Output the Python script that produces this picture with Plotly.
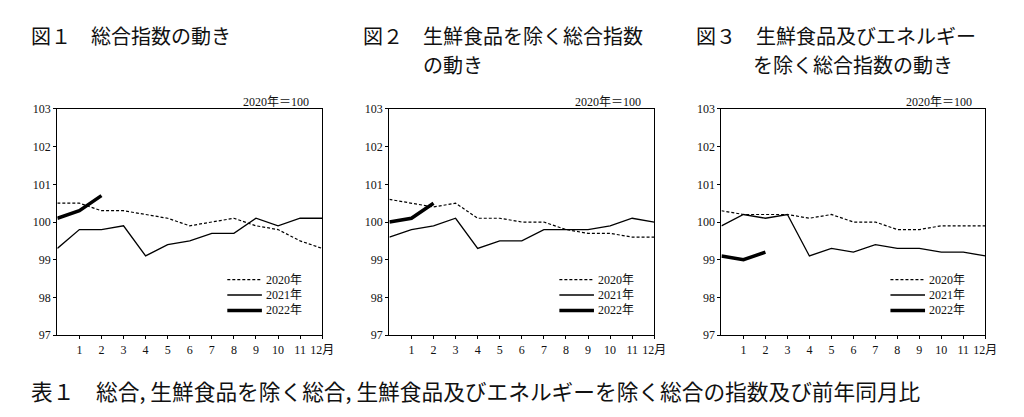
import plotly.graph_objects as go

# ---------------- data ----------------
month_pos = list(range(0, 13))          # 0 = previous December
tick_vals = list(range(1, 13))
tick_text = [str(i) for i in range(1, 12)] + ["12月"]
y_ticks = [97, 98, 99, 100, 101, 102, 103]
series_names = ["2020年", "2021年", "2022年"]

fig1_2020 = [100.5, 100.5, 100.3, 100.3, 100.2, 100.1, 99.9, 100.0, 100.1, 99.9, 99.8, 99.5, 99.3]
fig1_2021 = [99.3, 99.8, 99.8, 99.9, 99.1, 99.4, 99.5, 99.7, 99.7, 100.1, 99.9, 100.1, 100.1]
fig1_2022 = [100.1, 100.3, 100.7]

fig2_2020 = [100.6, 100.5, 100.4, 100.5, 100.1, 100.1, 100.0, 100.0, 99.8, 99.7, 99.7, 99.6, 99.6]
fig2_2021 = [99.6, 99.8, 99.9, 100.1, 99.3, 99.5, 99.5, 99.8, 99.8, 99.8, 99.9, 100.1, 100.0]
fig2_2022 = [100.0, 100.1, 100.5]

fig3_2020 = [100.3, 100.2, 100.2, 100.2, 100.1, 100.2, 100.0, 100.0, 99.8, 99.8, 99.9, 99.9, 99.9]
fig3_2021 = [99.9, 100.2, 100.1, 100.2, 99.1, 99.3, 99.2, 99.4, 99.3, 99.3, 99.2, 99.2, 99.1]
fig3_2022 = [99.1, 99.0, 99.2]

titles = [
    ["図１　総合指数の動き"],
    ["図２　生鮮食品を除く総合指数", "の動き"],
    ["図３　生鮮食品及びエネルギー", "を除く総合指数の動き"],
]
base_label = "2020年＝100"
table_title = "表１　総合, 生鮮食品を除く総合, 生鮮食品及びエネルギーを除く総合の指数及び前年同月比"

# ---------------- layout helpers ----------------
W, H = 1024, 417
def px(x):
    return x / W
def py(y):
    return 1 - y / H

FONT = "Liberation Serif, Noto Sans CJK JP, serif"
JFONT = "Noto Sans CJK JP, sans-serif"
INK = "#111111"

panels = [
    dict(data=[fig1_2020, fig1_2021, fig1_2022], left=58, right=326, title_x=29, title2_x=89),
    dict(data=[fig2_2020, fig2_2021, fig2_2022], left=394, right=662, title_x=365.5, title2_x=425.5),
    dict(data=[fig3_2020, fig3_2021, fig3_2022], left=730, right=997, title_x=702, title2_x=760),
]
top, bottom = 105.5, 339.5

styles = [
    dict(color="black", width=1.2, dash="3px,2px"),
    dict(color="black", width=1.3),
    dict(color="black", width=3.5),
]
legend_y = [282, 298, 314]

fig = go.Figure()
annotations = []
shapes = []
layout_axes = {}

for i, p in enumerate(panels):
    n = "" if i == 0 else str(i + 1)
    xa, ya = "x" + n, "y" + n
    for s, (vals, name) in enumerate(zip(p["data"], series_names)):
        fig.add_trace(go.Scatter(
            x=month_pos[:len(vals)], y=vals, mode="lines", name=name,
            line=styles[s], xaxis=xa, yaxis=ya, showlegend=False,
        ))
        # legend sample + label
        ly = legend_y[s]
        shapes.append(dict(
            type="line", xref="paper", yref="paper",
            x0=px(p["right"] - 96), x1=px(p["right"] - 61),
            y0=py(ly), y1=py(ly), line=styles[s],
        ))
        annotations.append(dict(
            x=px(p["right"] - 59), y=py(ly), xref="paper", yref="paper",
            xanchor="left", yanchor="middle", text=name, showarrow=False,
            font=dict(family=FONT, size=12, color=INK),
        ))
    layout_axes["xaxis" + n] = dict(
        domain=[px(p["left"]), px(p["right"])], anchor=ya, range=[0, 12],
        tickvals=tick_vals, ticktext=tick_text, ticks="outside", ticklen=3,
        tickcolor="black", showline=True, linecolor="black", linewidth=1.3,
        mirror=True, showgrid=False, zeroline=False,
        tickfont=dict(family=FONT, size=12, color=INK), fixedrange=True,
    )
    layout_axes["yaxis" + n] = dict(
        domain=[py(bottom), py(top)], anchor=xa, range=[97, 103],
        tickvals=y_ticks, ticks="outside", ticklen=3, tickcolor="black",
        showline=True, linecolor="black", linewidth=1.3, mirror=True,
        showgrid=False, zeroline=False,
        tickfont=dict(family=FONT, size=12, color=INK), fixedrange=True,
    )
    # titles (one annotation per line)
    annotations.append(dict(
        x=px(p["title_x"]), y=py(29.5), xref="paper", yref="paper",
        xanchor="left", yanchor="middle", text=titles[i][0], showarrow=False,
        font=dict(family=JFONT, size=20, color=INK),
    ))
    if len(titles[i]) > 1:
        annotations.append(dict(
            x=px(p["title2_x"]), y=py(59), xref="paper", yref="paper",
            xanchor="left", yanchor="middle", text=titles[i][1], showarrow=False,
            font=dict(family=JFONT, size=20, color=INK),
        ))
    annotations.append(dict(
        x=px(p["right"] - 11), y=py(98), xref="paper", yref="paper",
        xanchor="right", yanchor="middle", text=base_label, showarrow=False,
        font=dict(family=FONT, size=12, color=INK),
    ))

annotations.append(dict(
    x=px(29), y=py(396.5), xref="paper", yref="paper", xanchor="left",
    yanchor="middle", text=table_title, showarrow=False,
    font=dict(family=JFONT, size=21.7, color=INK),
))

fig.update_layout(
    width=W, height=H, margin=dict(l=0, r=0, t=0, b=0),
    paper_bgcolor="white", plot_bgcolor="white", showlegend=False,
    annotations=annotations, shapes=shapes, **layout_axes,
)

fig.write_html("out.html", config={"displayModeBar": False},
               post_script="document.body.style.margin='0';")
